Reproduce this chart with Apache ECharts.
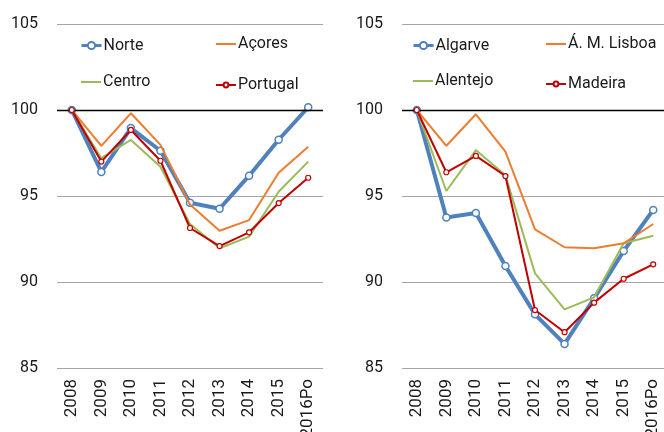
<!DOCTYPE html>
<html>
<head>
<meta charset="utf-8">
<script src="https://cdn.jsdelivr.net/npm/echarts@6/dist/echarts.min.js"></script>
<style>
html,body{margin:0;padding:0;background:#fff;}
#chart{width:664px;height:432px;}
</style>
</head>
<body>
<div id="chart"></div>
<script>
const categories = ['2008','2009','2010','2011','2012','2013','2014','2015','2016Po'];
const yTicks = { min: 85, max: 105, interval: 5 };

// Left panel
const norte    = [100, 96.40, 98.95, 97.63, 94.61, 94.26, 96.18, 98.27, 100.16];
const acores   = [100, 97.91, 99.81, 97.97, 94.50, 92.98, 93.60, 96.35, 97.87];
const centro   = [100, 97.20, 98.26, 96.70, 93.37, 91.96, 92.64, 95.25, 97.00];
const portugal = [100, 97.00, 98.84, 97.05, 93.14, 92.09, 92.89, 94.59, 96.06];

// Right panel
const algarve  = [100, 93.75, 94.01, 90.93, 88.12, 86.40, 89.05, 91.80, 94.19];
const lisboa   = [100, 97.92, 99.75, 97.58, 93.06, 92.02, 91.96, 92.25, 93.37];
const alentejo = [100, 95.29, 97.67, 96.20, 90.50, 88.41, 89.11, 92.25, 92.69];
const madeira  = [100, 96.38, 97.33, 96.16, 88.37, 87.08, 88.80, 90.19, 91.03];

const BLUE = '#4F81BD', ORANGE = '#ED7D31', GREEN = '#9BBB59', RED = '#C00000';
const FONT = 'Roboto';

function blueSeries(name, data, idx) {
  return { name, type: 'line', data, xAxisIndex: idx, yAxisIndex: idx,
    symbol: 'circle', symbolSize: 7, showSymbol: true,
    lineStyle: { color: BLUE, width: 4 },
    itemStyle: { color: '#fff', borderColor: BLUE, borderWidth: 1.5 },
    z: 2,
    markLine: { silent: true, symbol: 'none', label: { show: false },
      lineStyle: { color: '#000', width: 1.3, type: 'solid' },
      data: [{ yAxis: 100 }], animation: false } };
}
function plainSeries(name, data, idx, color, z) {
  return { name, type: 'line', data, xAxisIndex: idx, yAxisIndex: idx,
    symbol: 'none', showSymbol: false,
    lineStyle: { color, width: 2 }, itemStyle: { color }, z };
}
function redSeries(name, data, idx) {
  return { name, type: 'line', data, xAxisIndex: idx, yAxisIndex: idx,
    symbol: 'circle', symbolSize: 5, showSymbol: true,
    lineStyle: { color: RED, width: 2 },
    itemStyle: { color: '#fff', borderColor: RED, borderWidth: 1.2 }, z: 5 };
}
function legendAt(name, left, top, kind) {
  let itemHeight = 12;
  const cfg = { data: [name], left, itemWidth: 20, itemGap: 0, padding: 0,
    textStyle: { fontFamily: FONT, fontSize: 16, color: '#1a1a1a', padding: [0,0,0,-3] } };
  if (kind === 'plain') {
    cfg.itemStyle = { opacity: 0, borderWidth: 0 };
  } else if (kind === 'blue') {
    itemHeight = 9;
    cfg.lineStyle = { width: 3 };
  } else {
    itemHeight = 6;
  }
  cfg.itemHeight = itemHeight;
  cfg.top = top + (12 - itemHeight) / 2;
  return cfg;
}
function xAxis(idx) {
  return { type: 'category', gridIndex: idx, data: categories, boundaryGap: true,
    axisLine: { show: false }, axisTick: { show: false },
    splitLine: { show: false }, splitArea: { show: false },
    axisLabel: { rotate: 90, fontFamily: FONT, fontSize: 17, color: '#1a1a1a', margin: 11, interval: 0 } };
}
function yAxis(idx) {
  return { type: 'value', gridIndex: idx, min: yTicks.min, max: yTicks.max, interval: yTicks.interval,
    axisLine: { show: false }, axisTick: { show: false },
    axisLabel: { fontFamily: FONT, fontSize: 16, color: '#1a1a1a', margin: 19 },
    splitLine: { lineStyle: { color: '#A6A6A6', width: 1 } } };
}

const chart = echarts.init(document.getElementById('chart'), null, { renderer: 'canvas' });
chart.setOption({
  animation: false,
  backgroundColor: '#fff',
  grid: [
    { left: 57, top: 24, width: 266, height: 344, show: false, outerBoundsMode: 'none' },
    { left: 402, top: 24, width: 266, height: 344, show: false, outerBoundsMode: 'none' }
  ],
  legend: [
    legendAt('Norte', 80, 36, 'blue'),
    legendAt('Açores', 215, 36, 'plain'),
    legendAt('Centro', 80, 74, 'plain'),
    legendAt('Portugal', 215, 74, 'red'),
    legendAt('Algarve', 412, 36, 'blue'),
    legendAt('Á. M. Lisboa', 545, 36, 'plain'),
    legendAt('Alentejo', 412, 73, 'plain'),
    legendAt('Madeira', 545, 73, 'red')
  ],
  xAxis: [xAxis(0), xAxis(1)],
  yAxis: [yAxis(0), yAxis(1)],
  series: [
    blueSeries('Norte', norte, 0),
    plainSeries('Centro', centro, 0, GREEN, 3),
    plainSeries('Açores', acores, 0, ORANGE, 4),
    redSeries('Portugal', portugal, 0),
    blueSeries('Algarve', algarve, 1),
    plainSeries('Alentejo', alentejo, 1, GREEN, 3),
    plainSeries('Á. M. Lisboa', lisboa, 1, ORANGE, 4),
    redSeries('Madeira', madeira, 1)
  ]
});
</script>
</body>
</html>
